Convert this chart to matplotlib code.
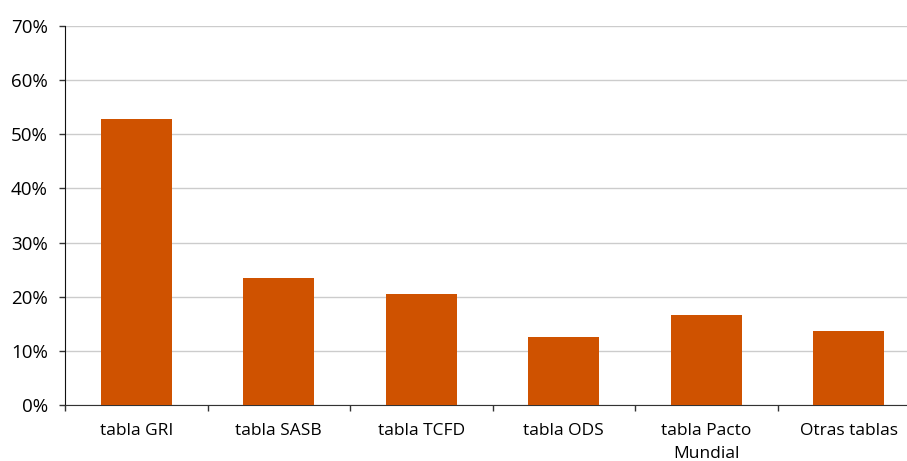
import matplotlib.pyplot as plt
from matplotlib.ticker import FuncFormatter

categories = ["tabla GRI", "tabla SASB", "tabla TCFD", "tabla ODS", "tabla Pacto\nMundial", "Otras tablas"]
values = [0.529, 0.235, 0.205, 0.126, 0.166, 0.137]
y_ticks = [0.0, 0.1, 0.2, 0.3, 0.4, 0.5, 0.6, 0.7]

plt.rcParams["font.family"] = ["Open Sans", "DejaVu Sans"]

fig = plt.figure(figsize=(9.07, 4.61), dpi=100)
ax = fig.add_axes([65 / 907, 1 - 405 / 461, 855 / 907, (405 - 26) / 461])

x = list(range(len(categories)))
ax.bar(x, values, width=0.5, color="#CF5200", zorder=3)

ax.set_xlim(-0.5, len(categories) - 0.5)
ax.set_ylim(0, 0.7)
ax.set_yticks(y_ticks)
ax.yaxis.set_major_formatter(FuncFormatter(lambda v, _: f"{v * 100:.0f}%"))
ax.yaxis.grid(True, color="#CCCCCC", linewidth=1, zorder=0)

ax.set_xticks(x)
ax.set_xticklabels(categories, fontsize=12.5, linespacing=1.6)
ax.set_xticks([i - 0.5 for i in range(len(categories) + 1)], minor=True)
ax.tick_params(axis="x", which="major", length=0, pad=13)
ax.tick_params(axis="x", which="minor", length=4.3, width=1, color="#333333")
ax.tick_params(axis="y", length=4.3, width=1, labelsize=13.5, color="#333333", pad=8)

for side in ["top", "right"]:
    ax.spines[side].set_visible(False)
ax.spines["left"].set_color("#111111")
ax.spines["bottom"].set_color("#333333")

plt.savefig("out.png", dpi=100)
